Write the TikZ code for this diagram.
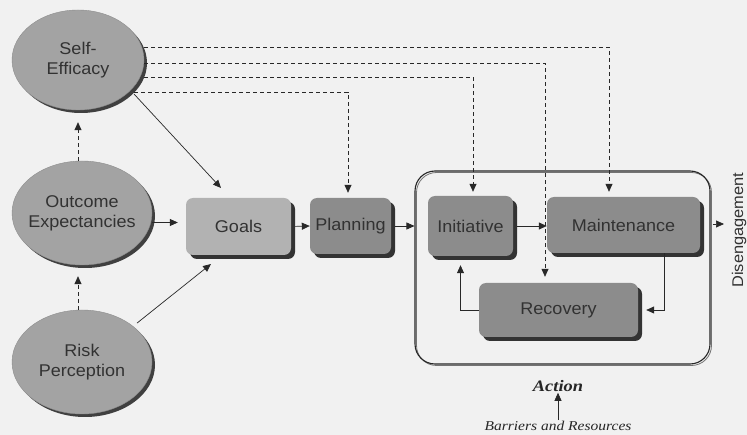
\documentclass[tikz,border=0pt]{standalone}
\usepackage{fontspec}
\setmainfont{Liberation Sans}[FakeStretch=1.06]
\newfontfamily\serifit{Liberation Serif}[FakeStretch=1.15]
\usetikzlibrary{shapes.geometric,shadows,arrows.meta,calc}
\definecolor{bg}{RGB}{241,241,241}
\definecolor{ellfill}{RGB}{163,163,163}
\definecolor{goalfill}{RGB}{178,178,178}
\definecolor{boxfill}{RGB}{140,140,140}
\definecolor{txt}{RGB}{50,50,50}
\definecolor{ln}{RGB}{40,40,40}
\tikzset{
 lbl/.style={font=\fontsize{17}{20}\selectfont, text=txt, align=center, inner sep=0pt},
 oval/.style={lbl, ellipse, inner xsep=-20pt, inner ysep=-10pt, fill=ellfill, draw=black!45, line width=0.4pt,
   drop shadow={shadow xshift=3pt, shadow yshift=-3pt, opacity=1, fill=black!75}},
 rbox/.style={lbl, rectangle, rounded corners=7pt, fill=boxfill,
   drop shadow={shadow xshift=4pt, shadow yshift=-4pt, opacity=1, fill=black!80}},
 arr/.style={draw=ln, line width=0.7pt, -{Triangle[length=8pt,width=7pt]}},
 dsh/.style={arr, dash pattern=on 4pt off 3pt},
 framebox/.style={draw=black!85, line width=1.1pt, rounded corners=20pt, inner sep=0pt,
   preaction={draw=black!55, line width=0.8pt, transform canvas={shift={(1.5pt,-1.5pt)}}}},
}
\begin{document}
\begin{tikzpicture}[x=1pt,y=-1pt]
\fill[bg] (0,0) rectangle (747,435);
\useasboundingbox (0,0) rectangle (747,435);

% nodes
\node[oval, minimum width=132pt, minimum height=100pt] (SE) at (78,60) {Self-\\Efficacy};
\node[oval, minimum width=140pt, minimum height=104pt] (OE) at (82,213) {Outcome\\Expectancies};
\node[oval, minimum width=140pt, minimum height=104pt] (RP) at (82,362) {Risk\\Perception};

\node[rbox, fill=goalfill, minimum width=105pt, minimum height=57pt] (Goals) at (238.5,226.5) {Goals};
\node[rbox, minimum width=81pt, minimum height=56pt] (Plan) at (350.5,226) {Planning};

\node[framebox, minimum width=295pt, minimum height=193pt] (Act) at (562.5,267.5) {};
\node[rbox, minimum width=85pt, minimum height=60pt] (Init) at (470.5,226) {Initiative};
\node[rbox, minimum width=153pt, minimum height=56pt] (Maint) at (623.5,225) {Maintenance};
\node[rbox, minimum width=159pt, minimum height=54pt] (Rec) at (558.5,310) {Recovery};

\node[lbl, font=\fontsize{15.5}{18}\selectfont, rotate=90] (Dis) at (739,230) {Disengagement};
\node[font=\serifit\bfseries\itshape\fontsize{16}{18}\selectfont, text=black!85, inner sep=1pt] (ActL) at (558,386) {Action};
\node[font=\serifit\itshape\fontsize{13.5}{15}\selectfont, text=black!85, inner sep=1pt] (Bar) at (558,426) {Barriers and Resources};

% free ends
\coordinate (g1) at (221,188);
\coordinate (g2) at (211,264);
\coordinate (g3) at ($(Goals.west)+(-8,-4)$);
\coordinate (dt) at (724,224);
\coordinate (d1) at (609,47);
\coordinate (d2) at (545,63);
\coordinate (d3) at (473,77);
\coordinate (d4) at (348,93);
\coordinate (mr) at ($(Maint.south east)+(-36,0)$);

% solid connectors
\draw[arr, shorten <=5pt] (SE.-30) -- (g1);
\draw[arr, shorten <=5pt] (RP.35) -- (g2);
\draw[arr] (OE.east |- g3) -- (g3);
\draw[arr, shorten <=4pt] (Goals.east) -- (Plan.west);
\draw[arr, shorten <=4pt] (Plan.east) -- (Plan.east -| Act.west);
\draw[arr, shorten <=4pt] (Init.east) -- (Init.east -| Maint.west);
\draw[arr, shorten >=8pt] (mr) |- (Rec.east);
\draw[arr, shorten >=9pt] (Rec.west) -| ($(Init.south)+(-10,0)$);
\draw[arr, shorten <=2pt] (Act.east |- dt) -- (dt);
\draw[arr] (Bar.north) -- (ActL.south);

% dashed connectors
\draw[dsh, shorten >=12pt] (SE.south |- OE.north) -- (SE.south);
\draw[dsh, shorten >=11pt] (SE.south |- RP.north) -- (SE.south |- OE.south);
\draw[dsh, shorten >=5pt] (SE.east |- d1) -- (d1) -- (d1 |- Maint.north);
\draw[dsh, shorten >=6pt] (SE.east |- d2) -- (d2) -- (d2 |- Rec.north);
\draw[dsh, shorten >=4pt] (SE.east |- d3) -- (d3) -- (d3 |- Init.north);
\draw[dsh, shorten >=5pt, shorten <=5pt] (SE.-32) -- (SE.-32 -| d4) -- (d4 |- Plan.north);
\end{tikzpicture}
\end{document}
